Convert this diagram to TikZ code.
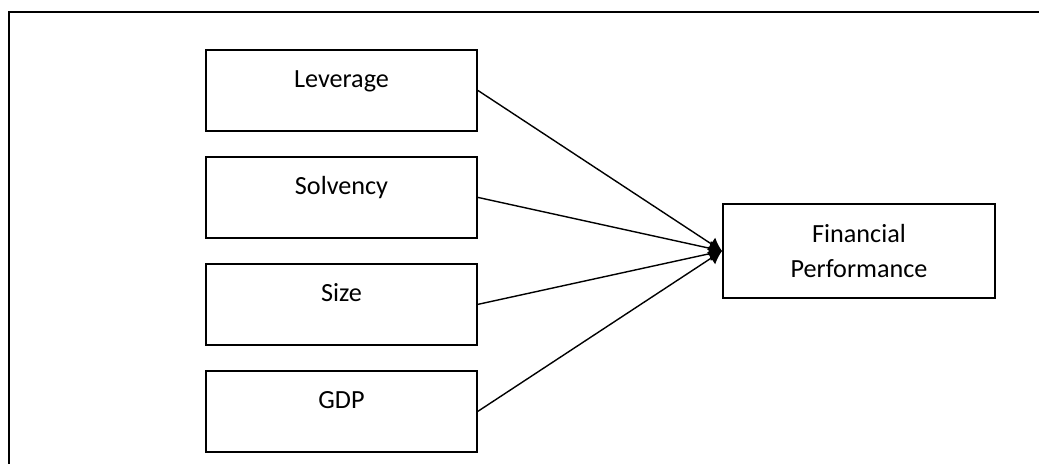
\documentclass[tikz,border=0pt]{standalone}
\usepackage{fontspec}
\setmainfont{Carlito}
\usetikzlibrary{arrows.meta,positioning}

\begin{document}
\begin{tikzpicture}[
  factor/.style={draw,line width=1.1pt,minimum width=5.42cm,inner ysep=0pt,
    text height=0.76cm,text depth=0.86cm,font=\fontsize{14.9}{19.9}\selectfont},
  outcome/.style={draw,line width=1.1pt,minimum width=5.44cm,minimum height=1.88cm,
    align=center,font=\fontsize{14.9}{19.9}\selectfont},
  link/.style={line width=0.8pt,-{Latex[length=0.26cm,width=0.3cm]}}]
  \useasboundingbox (0,0) rectangle (20.78,9.28);
  \clip (0,0) rectangle (20.78,9.28);

  % outer frame (cut off at right and bottom)
  \draw[line width=1.1pt] (0.18,-0.5) rectangle (21.5,9.04);

  % independent variables
  \node[factor] (lev) at (6.83,7.47) {Leverage};
  \node[factor,below=0.48cm of lev] (solv) {Solvency};
  \node[factor,below=0.48cm of solv] (size) {Size};
  \node[factor,below=0.48cm of size] (gdp) {GDP};

  % dependent variable
  \node[outcome] (perf) at (17.18,4.26) {Financial\\Performance};

  % links
  \draw[link] (lev.east) -- (perf.west);
  \draw[link] (solv.east) -- (perf.west);
  \draw[link] (size.east) -- (perf.west);
  \draw[link] (gdp.east) -- (perf.west);
\end{tikzpicture}
\end{document}
